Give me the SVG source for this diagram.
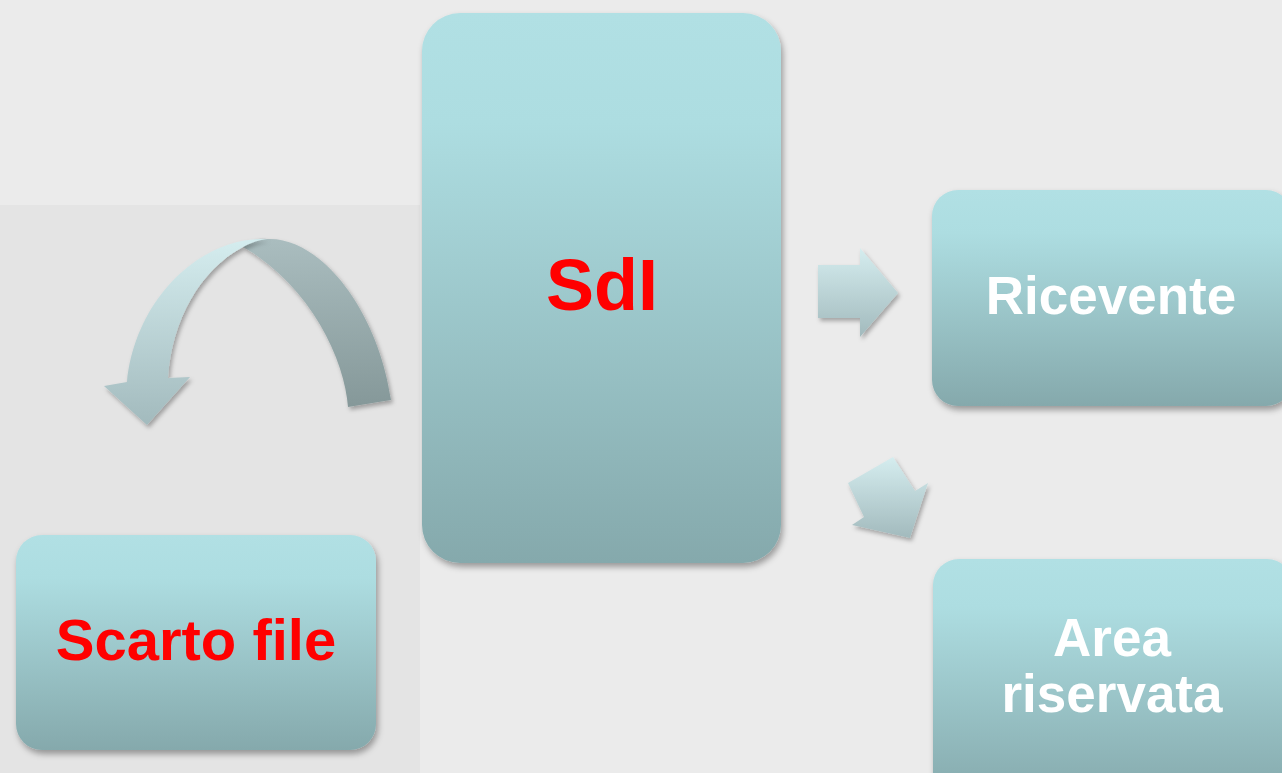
<svg xmlns="http://www.w3.org/2000/svg" width="1282" height="773" viewBox="0 0 1282 773">
<style>
.lbl{font-family:"Liberation Sans",Arial,sans-serif;font-weight:bold;text-anchor:middle}
.red{fill:#ff0000}
.wht{fill:#ffffff}
.box{fill:url(#boxg);filter:url(#sh)}
.arr{fill:url(#arrg);filter:url(#sh2)}
</style>
<defs>
<linearGradient id="boxg" x1="0" y1="0" x2="0" y2="1">
<stop offset="0" stop-color="#b1e0e4"/>
<stop offset="0.2" stop-color="#addde1"/>
<stop offset="1" stop-color="#85a9ac"/>
</linearGradient>
<linearGradient id="arrg" x1="0" y1="0" x2="0" y2="1">
<stop offset="0" stop-color="#d5edef"/>
<stop offset="1" stop-color="#a2babd"/>
</linearGradient>
<linearGradient id="arrd" x1="0" y1="0" x2="0" y2="1">
<stop offset="0" stop-color="#aabdbf"/>
<stop offset="1" stop-color="#859899"/>
</linearGradient>
<filter id="sh" x="-10%" y="-10%" width="125%" height="125%">
<feDropShadow dx="2" dy="4" stdDeviation="3" flood-color="#000" flood-opacity="0.35"/>
</filter>
<filter id="sh2" x="-20%" y="-20%" width="150%" height="150%">
<feDropShadow dx="2" dy="3" stdDeviation="2" flood-color="#000" flood-opacity="0.3"/>
</filter>
</defs>
<g id="background">
<rect x="0" y="0" width="1282" height="773" fill="#ebebeb"/>
<rect x="0" y="205" width="420" height="568" fill="#e4e4e4"/>
</g>
<g id="connectors">
<path id="curved-arrow-back" d="M 243 247 C 250 240 258 238 267 239 C 320 236 378 310 391 400 L 348 407 C 345 360 310 285 243 247 Z" fill="url(#arrd)" filter="url(#sh2)"/>
<path id="curved-arrow-front" class="arr" d="M 267 239 C 200 236 135 300 127 382 L 104 386 L 147 425 L 190 377 L 168 378 C 172 320 200 270 243 247 C 250 243 258 240 267 239 Z"/>
<polygon id="arrow-right" class="arr" points="818,265 860,265 860,248 898,293 860,337 860,318 818,318"/>
<polygon id="arrow-diag" class="arr" points="848,483 893,457 915,491 928,483 910,538 852,525 864,517"/>
</g>
<g id="node-sdi">
<rect class="box" x="422" y="13" width="359" height="550" rx="38" ry="38"/>
<text class="lbl red" x="602" y="310" font-size="72">SdI</text>
</g>
<g id="node-ricevente">
<rect class="box" x="932" y="190" width="360" height="216" rx="26" ry="26"/>
<text class="lbl wht" x="1111" y="314" font-size="53">Ricevente</text>
</g>
<g id="node-area">
<rect class="box" x="933" y="559" width="360" height="240" rx="26" ry="26"/>
<text class="lbl wht" x="1112" y="656" font-size="53">Area</text>
<text class="lbl wht" x="1112" y="712" font-size="53">riservata</text>
</g>
<g id="node-scarto">
<rect class="box" x="16" y="535" width="360" height="215" rx="26" ry="26"/>
<text class="lbl red" x="196" y="660" font-size="58">Scarto file</text>
</g>
</svg>
